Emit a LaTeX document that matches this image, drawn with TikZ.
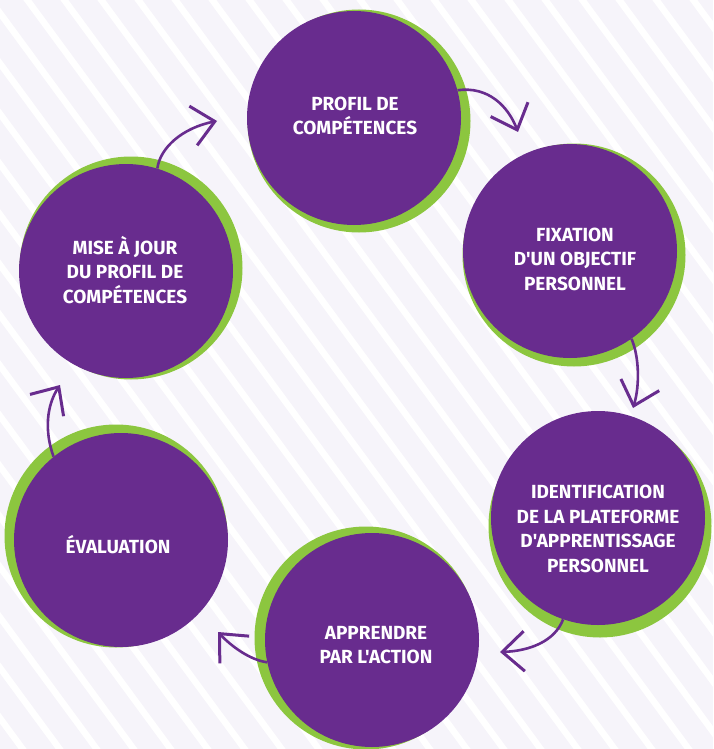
\documentclass[tikz,border=0pt]{standalone}
\usepackage{fontspec}
\setmainfont{Fira Sans}[Ligatures=TeXOff]
\usetikzlibrary{arrows.meta}
\definecolor{bgl}{HTML}{F6F4FA}
\definecolor{purp}{HTML}{682C8E}
\definecolor{grn}{HTML}{8CC63F}
\begin{document}
\begin{tikzpicture}[x=1pt,y=-1pt,
  pcirc/.style={circle,fill=purp,inner sep=0pt,minimum size=214pt},
  gcirc/.style={circle,fill=grn,inner sep=0pt,minimum size=223pt},
  lbl/.style={text=white,font=\bfseries\fontsize{19}{24.5}\selectfont,align=center,inner sep=0pt},
  flow/.style={draw=purp,line width=2.6pt,-{Straight Barb[length=22pt,width=40pt,line width=3pt]}},
  stripe/.style={white,line width=6.5pt}]
\useasboundingbox (0,0) rectangle (713,749);
\clip (0,0) rectangle (713,749);
\fill[bgl] (0,0) rectangle (713,749);
\foreach \i in {-16,...,19} \draw[stripe] ({20+37*\i},-10) -- ({20+37*\i+565},759);
% green backs
\node[gcirc] (g1) at (359,121) {};
\node[gcirc] (g2) at (574,255) {};
\node[gcirc] (g3) at (600,526) {};
\node[gcirc] (g4) at (366,638) {};
\node[gcirc] (g5) at (116,536) {};
\node[gcirc] (g6) at (131,268) {};
% purple discs
\node[pcirc] (c1) at (354,118) {};
\node[pcirc] (c2) at (570,251) {};
\node[pcirc] (c3) at (598,518) {};
\node[pcirc] (c4) at (372,640) {};
\node[pcirc] (c5) at (121,540) {};
\node[pcirc] (c6) at (126,271) {};
% labels
\node[lbl] (t1) at (355,116) {PROFIL DE\\COMPÉTENCES};
\node[lbl] (t2) at (575,259) {FIXATION\\D'UN OBJECTIF\\PERSONNEL};
\node[lbl] (t3) at (598,529) {IDENTIFICATION\\DE LA PLATEFORME\\D'APPRENTISSAGE\\PERSONNEL};
\node[lbl] (t4) at (376,645) {APPRENDRE\\PAR L'ACTION};
\node[lbl] (t5) at (118,545) {ÉVALUATION};
\node[lbl] (t6) at (125,270) {MISE À JOUR\\DU PROFIL DE\\COMPÉTENCES};
% arrow tips
\coordinate (e1) at (518,132);
\coordinate (e2) at (633,408);
\coordinate (e3) at (500,652);
\coordinate (e4) at (218,632);
\coordinate (e5) at (60,385);
\coordinate (e6) at (217,121);
\draw[flow] (c1.15) .. controls (488,86) and (508,106) .. (e1);
\draw[flow] (c2.-55) .. controls (639,356) and (640,385) .. (e2);
\draw[flow] (c3.-109) .. controls (555,641) and (530,651) .. (e3);
\draw[flow] (c4.192) .. controls (250,660) and (231,646) .. (e4);
\draw[flow] (c5.129) .. controls (44,430) and (47,405) .. (e5);
\draw[flow] (c6.73) .. controls (160,148) and (182,128) .. (e6);
\end{tikzpicture}
\end{document}
